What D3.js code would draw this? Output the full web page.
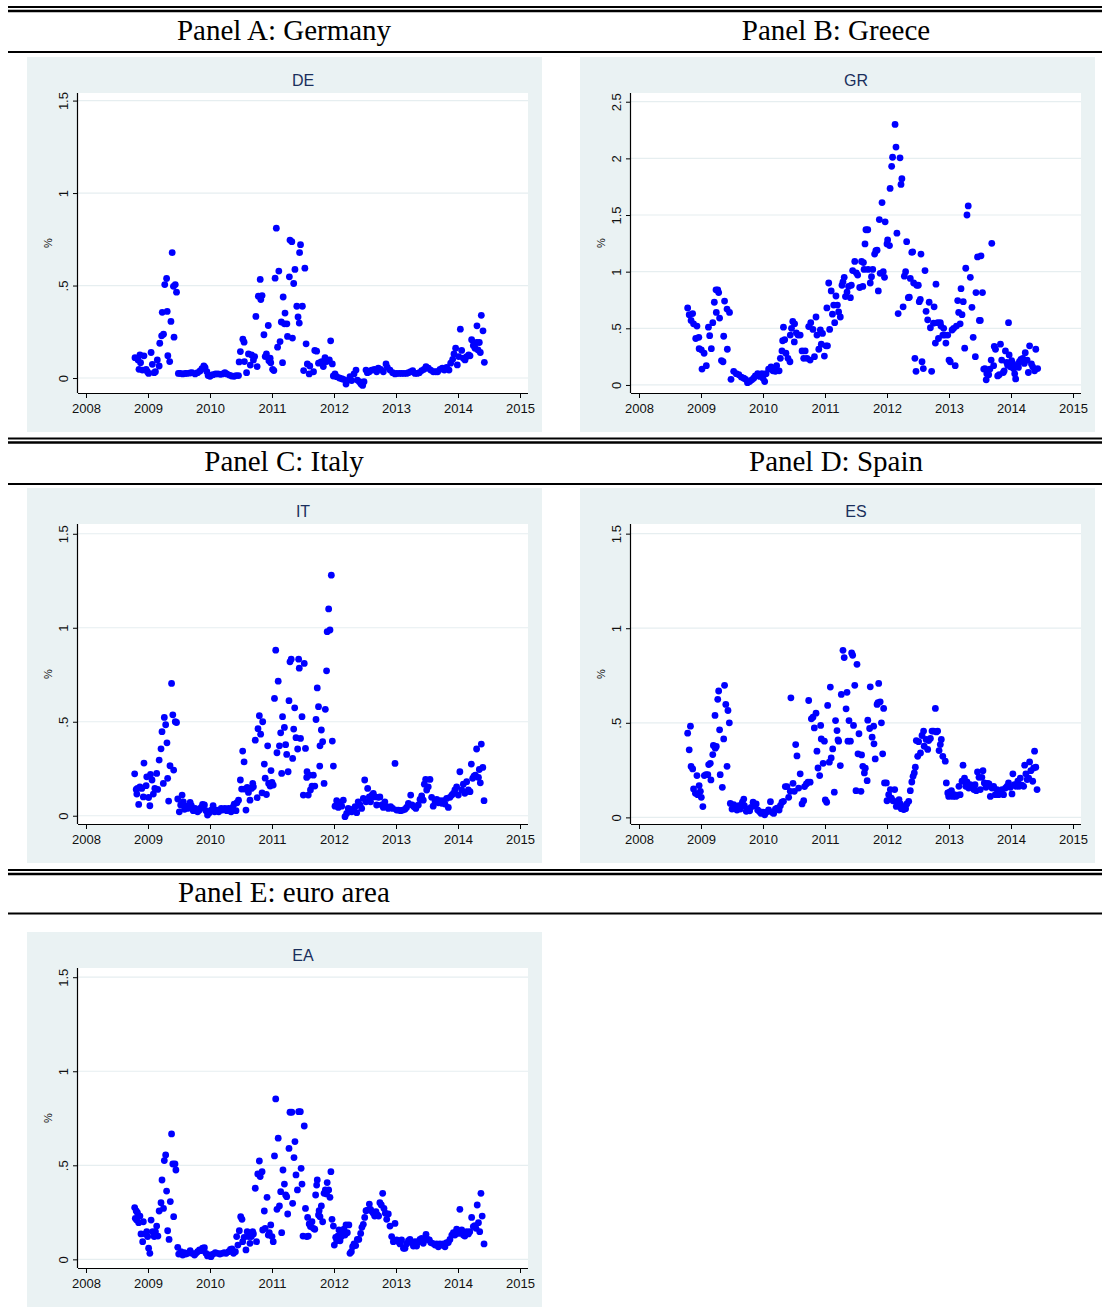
<!DOCTYPE html>
<html><head><meta charset="utf-8">
<script src="https://cdn.jsdelivr.net/npm/d3@7"></script>
<style>body{margin:0;background:#fff}</style>
</head><body>
<svg id="c" width="1102" height="1310"></svg>
<script>
// ---------- data ----------
const xTicks = [2008, 2009, 2010, 2011, 2012, 2013, 2014, 2015];
const yTicksLow = [0, 0.5, 1, 1.5];
const yTicksHigh = [0, 0.5, 1, 1.5, 2, 2.5];
const yTickText = {"0": "0", "0.5": ".5", "1": "1", "1.5": "1.5", "2": "2", "2.5": "2.5"};
const panelTitles = ["Panel A: Germany", "Panel B: Greece", "Panel C: Italy", "Panel D: Spain", "Panel E: euro area"];
const chartTitles = ["DE", "GR", "IT", "ES", "EA"];
const yAxisTitle = "%";

const DE = [[2008.79,0.11],[2008.84,0.098],[2008.87,0.125],[2008.855,0.047],[2008.88,0.083],[2008.935,0.12],[2008.91,0.043],[2008.97,0.047],[2008.99,0.034],[2009.01,0.025],[2009.05,0.138],[2009.07,0.074],[2009.10,0.029],[2009.12,0.034],[2009.15,0.098],[2009.18,0.065],[2009.19,0.188],[2009.22,0.228],[2009.25,0.237],[2009.23,0.355],[2009.31,0.36],[2009.27,0.505],[2009.30,0.538],[2009.32,0.121],[2009.35,0.089],[2009.37,0.306],[2009.39,0.678],[2009.41,0.496],[2009.42,0.221],[2009.44,0.505],[2009.46,0.464],[2009.49,0.025],[2009.52,0.025],[2009.56,0.022],[2009.60,0.025],[2009.63,0.025],[2009.68,0.027],[2009.71,0.029],[2009.76,0.022],[2009.80,0.029],[2009.84,0.038],[2009.87,0.05],[2009.90,0.065],[2009.92,0.058],[2009.95,0.034],[2009.97,0.013],[2010.0,0.009],[2010.03,0.016],[2010.05,0.018],[2010.09,0.022],[2010.13,0.022],[2010.17,0.02],[2010.20,0.022],[2010.24,0.029],[2010.27,0.022],[2010.31,0.016],[2010.35,0.011],[2010.39,0.009],[2010.42,0.013],[2010.46,0.013],[2010.49,0.143],[2010.47,0.087],[2010.53,0.21],[2010.55,0.194],[2010.555,0.089],[2010.59,0.029],[2010.62,0.13],[2010.65,0.07],[2010.67,0.125],[2010.70,0.098],[2010.72,0.116],[2010.74,0.333],[2010.76,0.062],[2010.78,0.442],[2010.81,0.533],[2010.82,0.424],[2010.84,0.446],[2010.87,0.234],[2010.89,0.116],[2010.91,0.13],[2010.94,0.284],[2010.95,0.094],[2010.97,0.107],[2010.98,0.083],[2011.01,0.047],[2011.03,0.04],[2011.05,0.54],[2011.07,0.81],[2011.09,0.167],[2011.11,0.578],[2011.13,0.197],[2011.15,0.303],[2011.17,0.083],[2011.18,0.438],[2011.20,0.293],[2011.21,0.351],[2011.24,0.293],[2011.25,0.225],[2011.28,0.547],[2011.29,0.746],[2011.32,0.737],[2011.33,0.216],[2011.35,0.511],[2011.37,0.587],[2011.40,0.388],[2011.42,0.33],[2011.44,0.297],[2011.445,0.678],[2011.46,0.721],[2011.49,0.388],[2011.51,0.04],[2011.53,0.594],[2011.55,0.185],[2011.57,0.076],[2011.60,0.022],[2011.61,0.065],[2011.67,0.034],[2011.69,0.149],[2011.72,0.145],[2011.75,0.08],[2011.774,0.083],[2011.801,0.089],[2011.828,0.062],[2011.855,0.110],[2011.882,0.089],[2011.925,0.098],[2011.946,0.201],[2011.973,0.076],[2011.989,0.011],[2012.016,0.022],[2012.043,0.007],[2012.086,0.000],[2012.124,-0.004],[2012.151,-0.007],[2012.194,-0.033],[2012.231,-0.011],[2012.258,0.007],[2012.285,-0.014],[2012.323,0.022],[2012.355,0.043],[2012.376,-0.011],[2012.409,-0.020],[2012.435,-0.033],[2012.462,-0.040],[2012.484,-0.020],[2012.516,0.043],[2012.538,0.029],[2012.570,0.034],[2012.608,0.043],[2012.651,0.047],[2012.688,0.034],[2012.715,0.053],[2012.753,0.047],[2012.796,0.034],[2012.839,0.076],[2012.860,0.058],[2012.903,0.043],[2012.946,0.029],[2012.984,0.022],[2013.011,0.025],[2013.054,0.025],[2013.091,0.025],[2013.129,0.025],[2013.172,0.025],[2013.199,0.029],[2013.237,0.034],[2013.269,0.040],[2013.306,0.025],[2013.344,0.025],[2013.376,0.029],[2013.414,0.040],[2013.452,0.047],[2013.484,0.062],[2013.522,0.053],[2013.559,0.043],[2013.602,0.034],[2013.640,0.034],[2013.672,0.034],[2013.710,0.047],[2013.747,0.053],[2013.780,0.043],[2013.817,0.058],[2013.855,0.043],[2013.882,0.080],[2013.914,0.101],[2013.935,0.130],[2013.962,0.161],[2013.989,0.071],[2014.011,0.116],[2014.038,0.264],[2014.059,0.149],[2014.086,0.107],[2014.113,0.098],[2014.140,0.116],[2014.172,0.125],[2014.194,0.120],[2014.220,0.207],[2014.247,0.176],[2014.274,0.161],[2014.301,0.192],[2014.306,0.282],[2014.323,0.152],[2014.344,0.192],[2014.360,0.138],[2014.376,0.339],[2014.403,0.255],[2014.425,0.085]];

const GR = [[2008.785,0.68],[2008.81,0.62],[2008.865,0.63],[2008.84,0.57],[2008.88,0.54],[2008.935,0.52],[2008.915,0.41],[2008.965,0.42],[2008.97,0.32],[2009.005,0.31],[2009.05,0.28],[2009.016,0.14],[2009.086,0.17],[2009.12,0.51],[2009.14,0.435],[2009.167,0.32],[2009.19,0.55],[2009.215,0.73],[2009.247,0.64],[2009.242,0.84],[2009.27,0.84],[2009.285,0.815],[2009.30,0.59],[2009.33,0.215],[2009.355,0.205],[2009.366,0.43],[2009.38,0.74],[2009.42,0.67],[2009.46,0.64],[2009.425,0.315],[2009.484,0.05],[2009.527,0.12],[2009.57,0.10],[2009.61,0.09],[2009.65,0.07],[2009.69,0.06],[2009.72,0.05],[2009.75,0.02],[2009.785,0.03],[2009.82,0.045],[2009.85,0.06],[2009.876,0.08],[2009.914,0.10],[2009.946,0.075],[2009.984,0.10],[2010.0,0.06],[2010.027,0.03],[2010.05,0.10],[2010.09,0.14],[2010.13,0.16],[2010.16,0.125],[2010.2,0.12],[2010.22,0.17],[2010.26,0.125],[2010.28,0.235],[2010.306,0.30],[2010.33,0.51],[2010.317,0.39],[2010.35,0.40],[2010.37,0.28],[2010.403,0.235],[2010.435,0.205],[2010.44,0.44],[2010.46,0.50],[2010.48,0.56],[2010.51,0.54],[2010.505,0.38],[2010.538,0.46],[2010.565,0.44],[2010.60,0.44],[2010.63,0.30],[2010.656,0.235],[2010.68,0.30],[2010.71,0.235],[2010.737,0.515],[2010.76,0.22],[2010.77,0.55],[2010.806,0.49],[2010.83,0.25],[2010.855,0.60],[2010.87,0.44],[2010.90,0.315],[2010.925,0.485],[2010.94,0.36],[2010.96,0.455],[2010.99,0.255],[2011.016,0.345],[2011.03,0.68],[2011.04,0.345],[2011.06,0.90],[2011.075,0.49],[2011.10,0.83],[2011.12,0.625],[2011.14,0.705],[2011.156,0.55],[2011.177,0.785],[2011.2,0.705],[2011.22,0.645],[2011.247,0.60],[2011.274,0.88],[2011.29,0.91],[2011.31,0.95],[2011.33,0.78],[2011.355,0.82],[2011.38,0.87],[2011.41,0.77],[2011.425,0.88],[2011.446,1.01],[2011.48,1.09],[2011.505,0.99],[2011.527,0.97],[2011.56,0.86],[2011.59,1.09],[2011.62,1.08],[2011.645,1.245],[2011.66,1.37],[2011.69,1.37],[2011.61,0.87],[2011.63,1.02],[2011.695,1.02],[2011.73,0.90],[2011.75,0.955],[2011.77,1.02],[2011.80,1.155],[2011.82,1.185],[2011.84,1.19],[2011.86,0.83],[2011.876,1.46],[2011.89,0.985],[2011.92,1.61],[2011.94,1.0],[2011.96,0.95],[2011.97,1.44],[2012.0,1.245],[2012.01,1.28],[2012.04,1.23],[2012.05,1.735],[2012.075,1.93],[2012.09,2.01],[2012.13,2.30],[2012.145,2.10],[2012.16,1.34],[2012.18,0.63],[2012.21,2.005],[2012.226,1.77],[2012.24,1.82],[2012.26,0.69],[2012.28,0.96],[2012.30,1.0],[2012.317,1.265],[2012.344,0.77],[2012.36,0.775],[2012.376,0.94],[2012.40,1.17],[2012.414,1.175],[2012.43,0.90],[2012.45,0.235],[2012.468,0.12],[2012.48,0.88],[2012.505,0.88],[2012.52,0.735],[2012.537,0.755],[2012.548,1.155],[2012.565,0.205],[2012.586,0.145],[2012.613,1.01],[2012.63,0.65],[2012.656,0.575],[2012.68,0.73],[2012.70,0.505],[2012.72,0.12],[2012.75,0.545],[2012.76,0.69],[2012.79,0.89],[2012.78,0.37],[2012.817,0.55],[2012.83,0.41],[2012.86,0.55],[2012.87,0.52],[2012.90,0.44],[2012.914,0.50],[2012.935,0.44],[2012.95,0.37],[2012.98,0.44],[2013.0,0.22],[2013.02,0.205],[2013.05,0.485],[2013.075,0.50],[2013.10,0.17],[2013.12,0.52],[2013.14,0.745],[2013.156,0.64],[2013.18,0.54],[2013.194,0.85],[2013.21,0.62],[2013.23,0.735],[2013.253,0.325],[2013.27,1.03],[2013.29,1.50],[2013.31,1.58],[2013.344,0.95],[2013.37,0.685],[2013.39,0.42],[2013.425,0.25],[2013.435,0.815],[2013.46,1.13],[2013.49,0.57],[2013.505,0.57],[2013.516,1.14],[2013.54,0.815],[2013.56,0.14],[2013.58,0.145],[2013.60,0.045],[2013.61,0.10],[2013.64,0.09],[2013.66,0.14],[2013.68,0.22],[2013.69,1.25],[2013.72,0.17],[2013.73,0.34],[2013.75,0.315],[2013.785,0.08],[2013.81,0.09],[2013.83,0.36],[2013.85,0.22],[2013.876,0.11],[2013.89,0.125],[2013.91,0.30],[2013.93,0.20],[2013.946,0.175],[2013.96,0.55],[2013.97,0.265],[2013.99,0.16],[2014.01,0.215],[2014.027,0.19],[2014.04,0.145],[2014.06,0.10],[2014.075,0.053],[2014.097,0.17],[2014.12,0.155],[2014.134,0.205],[2014.16,0.225],[2014.19,0.235],[2014.215,0.19],[2014.23,0.285],[2014.26,0.22],[2014.28,0.11],[2014.30,0.345],[2014.33,0.185],[2014.35,0.16],[2014.38,0.125],[2014.40,0.315],[2014.43,0.145]];

const IT = [[2008.785,0.223],[2008.81,0.14],[2008.82,0.115],[2008.85,0.06],[2008.83,0.145],[2008.87,0.154],[2008.90,0.145],[2008.925,0.10],[2008.935,0.28],[2008.97,0.16],[2008.98,0.207],[2009.01,0.097],[2009.03,0.053],[2009.04,0.22],[2009.065,0.19],[2009.086,0.115],[2009.11,0.145],[2009.14,0.225],[2009.156,0.14],[2009.18,0.296],[2009.21,0.356],[2009.226,0.447],[2009.247,0.172],[2009.263,0.523],[2009.285,0.484],[2009.306,0.388],[2009.317,0.199],[2009.333,0.078],[2009.355,0.266],[2009.38,0.704],[2009.40,0.537],[2009.414,0.243],[2009.44,0.50],[2009.46,0.496],[2009.48,0.089],[2009.505,0.021],[2009.55,0.11],[2009.527,0.057],[2009.57,0.074],[2009.59,0.034],[2009.61,0.051],[2009.64,0.039],[2009.68,0.071],[2009.70,0.053],[2009.73,0.027],[2009.76,0.039],[2009.80,0.021],[2009.83,0.03],[2009.855,0.043],[2009.88,0.06],[2009.91,0.057],[2009.935,0.027],[2009.96,0.004],[2009.99,0.016],[2010.02,0.03],[2010.05,0.053],[2010.075,0.021],[2010.11,0.03],[2010.14,0.021],[2010.18,0.039],[2010.20,0.03],[2010.24,0.039],[2010.27,0.027],[2010.30,0.039],[2010.34,0.021],[2010.365,0.044],[2010.39,0.062],[2010.42,0.027],[2010.435,0.069],[2010.46,0.083],[2010.49,0.19],[2010.51,0.142],[2010.527,0.344],[2010.55,0.287],[2010.555,0.142],[2010.58,0.03],[2010.60,0.151],[2010.62,0.124],[2010.645,0.083],[2010.67,0.145],[2010.69,0.172],[2010.70,0.154],[2010.73,0.402],[2010.76,0.096],[2010.774,0.463],[2010.796,0.532],[2010.817,0.434],[2010.85,0.50],[2010.84,0.122],[2010.876,0.275],[2010.89,0.20],[2010.91,0.113],[2010.93,0.372],[2010.946,0.172],[2010.97,0.158],[2010.984,0.24],[2011.0,0.177],[2011.02,0.163],[2011.04,0.624],[2011.06,0.881],[2011.08,0.335],[2011.10,0.716],[2011.12,0.372],[2011.14,0.441],[2011.156,0.225],[2011.17,0.527],[2011.20,0.47],[2011.22,0.378],[2011.237,0.326],[2011.26,0.234],[2011.274,0.612],[2011.29,0.819],[2011.31,0.833],[2011.333,0.305],[2011.35,0.461],[2011.366,0.574],[2011.387,0.415],[2011.414,0.355],[2011.43,0.833],[2011.44,0.785],[2011.46,0.411],[2011.484,0.527],[2011.505,0.11],[2011.52,0.81],[2011.54,0.358],[2011.56,0.204],[2011.565,0.234],[2011.585,0.11],[2011.60,0.216],[2011.62,0.137],[2011.645,0.158],[2011.667,0.216],[2011.69,0.158],[2011.71,0.512],[2011.73,0.68],[2011.75,0.58],[2011.77,0.264],[2011.774,0.372],[2011.796,0.456],[2011.817,0.394],[2011.84,0.172],[2011.86,0.566],[2011.88,0.771],[2011.89,0.979],[2011.914,1.10],[2011.935,0.988],[2011.957,1.28],[2011.973,0.397],[2011.99,0.264],[2012.016,0.051],[2012.043,0.08],[2012.07,0.044],[2012.097,0.069],[2012.124,0.051],[2012.15,0.083],[2012.177,-0.005],[2012.204,0.012],[2012.23,0.039],[2012.258,0.034],[2012.285,0.021],[2012.312,0.034],[2012.34,0.048],[2012.366,0.016],[2012.39,0.074],[2012.42,0.057],[2012.446,0.039],[2012.473,0.092],[2012.495,0.19],[2012.516,0.074],[2012.543,0.145],[2012.57,0.10],[2012.59,0.074],[2012.613,0.11],[2012.634,0.119],[2012.66,0.10],[2012.688,0.057],[2012.715,0.098],[2012.74,0.10],[2012.77,0.057],[2012.796,0.044],[2012.82,0.074],[2012.85,0.048],[2012.876,0.039],[2012.914,0.048],[2012.946,0.039],[2012.984,0.278],[2013.01,0.03],[2013.04,0.03],[2013.075,0.027],[2013.11,0.03],[2013.145,0.034],[2013.17,0.044],[2013.20,0.066],[2013.237,0.11],[2013.258,0.057],[2013.29,0.048],[2013.32,0.039],[2013.36,0.057],[2013.387,0.087],[2013.414,0.105],[2013.44,0.083],[2013.457,0.168],[2013.478,0.193],[2013.495,0.137],[2013.52,0.154],[2013.548,0.193],[2013.575,0.098],[2013.60,0.051],[2013.63,0.074],[2013.656,0.087],[2013.683,0.069],[2013.71,0.08],[2013.737,0.066],[2013.763,0.08],[2013.79,0.062],[2013.817,0.092],[2013.844,0.044],[2013.87,0.098],[2013.90,0.11],[2013.925,0.119],[2013.95,0.137],[2013.978,0.154],[2014.005,0.11],[2014.03,0.234],[2014.06,0.137],[2014.086,0.168],[2014.11,0.119],[2014.14,0.181],[2014.167,0.137],[2014.194,0.128],[2014.215,0.275],[2014.237,0.199],[2014.258,0.211],[2014.28,0.216],[2014.30,0.355],[2014.33,0.204],[2014.344,0.246],[2014.36,0.175],[2014.376,0.381],[2014.40,0.257],[2014.42,0.08]];

const ES = [[2008.785,0.445],[2008.83,0.482],[2008.81,0.357],[2008.84,0.269],[2008.866,0.256],[2008.88,0.15],[2008.91,0.127],[2008.935,0.221],[2008.946,0.12],[2008.97,0.168],[2008.99,0.138],[2009.005,0.106],[2009.03,0.057],[2009.054,0.221],[2009.08,0.226],[2009.11,0.226],[2009.124,0.279],[2009.15,0.286],[2009.16,0.198],[2009.19,0.332],[2009.20,0.38],[2009.23,0.366],[2009.247,0.375],[2009.226,0.539],[2009.27,0.624],[2009.285,0.668],[2009.30,0.463],[2009.31,0.226],[2009.344,0.159],[2009.366,0.415],[2009.38,0.698],[2009.40,0.597],[2009.42,0.27],[2009.435,0.565],[2009.457,0.50],[2009.473,0.074],[2009.50,0.044],[2009.527,0.067],[2009.554,0.057],[2009.58,0.039],[2009.61,0.062],[2009.634,0.044],[2009.667,0.08],[2009.69,0.097],[2009.70,0.062],[2009.73,0.032],[2009.75,0.044],[2009.785,0.035],[2009.806,0.053],[2009.84,0.08],[2009.86,0.062],[2009.89,0.071],[2009.914,0.039],[2009.946,0.03],[2009.97,0.021],[2010.0,0.027],[2010.027,0.014],[2010.054,0.027],[2010.09,0.039],[2010.12,0.083],[2010.145,0.027],[2010.172,0.021],[2010.20,0.044],[2010.226,0.049],[2010.26,0.039],[2010.28,0.062],[2010.306,0.08],[2010.33,0.085],[2010.36,0.163],[2010.387,0.163],[2010.414,0.106],[2010.44,0.138],[2010.45,0.632],[2010.484,0.18],[2010.505,0.138],[2010.527,0.385],[2010.548,0.325],[2010.575,0.155],[2010.60,0.23],[2010.63,0.071],[2010.656,0.088],[2010.67,0.163],[2010.70,0.177],[2010.726,0.186],[2010.737,0.618],[2010.76,0.186],[2010.78,0.521],[2010.806,0.53],[2010.828,0.473],[2010.855,0.551],[2010.87,0.35],[2010.887,0.261],[2010.914,0.221],[2010.93,0.486],[2010.94,0.415],[2010.97,0.286],[2010.99,0.403],[2011.005,0.092],[2011.027,0.08],[2011.043,0.592],[2011.07,0.292],[2011.086,0.689],[2011.10,0.314],[2011.124,0.362],[2011.15,0.133],[2011.17,0.512],[2011.194,0.459],[2011.21,0.41],[2011.22,0.403],[2011.247,0.274],[2011.263,0.65],[2011.29,0.883],[2011.31,0.845],[2011.34,0.574],[2011.355,0.661],[2011.37,0.403],[2011.387,0.512],[2011.41,0.403],[2011.43,0.869],[2011.446,0.857],[2011.46,0.486],[2011.48,0.698],[2011.50,0.141],[2011.516,0.809],[2011.532,0.336],[2011.548,0.442],[2011.58,0.138],[2011.59,0.33],[2011.61,0.27],[2011.635,0.235],[2011.65,0.26],[2011.68,0.194],[2011.69,0.514],[2011.72,0.47],[2011.73,0.69],[2011.76,0.424],[2011.785,0.482],[2011.79,0.389],[2011.81,0.309],[2011.84,0.597],[2011.855,0.606],[2011.866,0.708],[2011.89,0.611],[2011.91,0.50],[2011.93,0.336],[2011.946,0.576],[2011.96,0.182],[2011.99,0.182],[2012.0,0.088],[2012.027,0.12],[2012.054,0.147],[2012.07,0.102],[2012.097,0.088],[2012.124,0.147],[2012.15,0.058],[2012.17,0.076],[2012.194,0.094],[2012.215,0.071],[2012.23,0.046],[2012.25,0.058],[2012.27,0.041],[2012.30,0.046],[2012.32,0.071],[2012.35,0.085],[2012.376,0.141],[2012.40,0.187],[2012.42,0.217],[2012.44,0.235],[2012.457,0.265],[2012.473,0.406],[2012.495,0.323],[2012.51,0.40],[2012.54,0.341],[2012.565,0.433],[2012.59,0.456],[2012.60,0.376],[2012.63,0.412],[2012.656,0.359],[2012.672,0.406],[2012.70,0.417],[2012.726,0.456],[2012.75,0.456],[2012.78,0.576],[2012.796,0.452],[2012.817,0.456],[2012.84,0.353],[2012.86,0.385],[2012.876,0.412],[2012.90,0.323],[2012.94,0.297],[2012.957,0.182],[2012.98,0.129],[2012.995,0.111],[2013.01,0.134],[2013.04,0.141],[2013.06,0.111],[2013.086,0.12],[2013.11,0.111],[2013.14,0.117],[2013.16,0.164],[2013.18,0.12],[2013.21,0.191],[2013.226,0.276],[2013.25,0.208],[2013.27,0.164],[2013.29,0.187],[2013.317,0.155],[2013.344,0.173],[2013.37,0.159],[2013.40,0.147],[2013.42,0.173],[2013.44,0.141],[2013.46,0.24],[2013.484,0.212],[2013.505,0.147],[2013.53,0.212],[2013.548,0.247],[2013.57,0.182],[2013.597,0.159],[2013.624,0.18],[2013.645,0.177],[2013.667,0.111],[2013.694,0.155],[2013.72,0.164],[2013.747,0.12],[2013.774,0.147],[2013.80,0.12],[2013.83,0.129],[2013.855,0.147],[2013.88,0.12],[2013.91,0.155],[2013.935,0.164],[2013.96,0.182],[2013.99,0.159],[2014.016,0.124],[2014.03,0.23],[2014.054,0.173],[2014.08,0.164],[2014.11,0.191],[2014.13,0.164],[2014.15,0.208],[2014.177,0.17],[2014.204,0.164],[2014.22,0.276],[2014.24,0.23],[2014.26,0.20],[2014.285,0.208],[2014.30,0.293],[2014.32,0.247],[2014.35,0.191],[2014.366,0.261],[2014.38,0.35],[2014.40,0.265],[2014.42,0.147]];

const EA = [[2008.785,0.275],[2008.81,0.257],[2008.83,0.248],[2008.795,0.218],[2008.817,0.209],[2008.85,0.195],[2008.87,0.23],[2008.887,0.135],[2008.914,0.094],[2008.925,0.20],[2008.957,0.135],[2008.98,0.147],[2008.995,0.121],[2009.01,0.059],[2009.03,0.032],[2009.05,0.209],[2009.075,0.147],[2009.10,0.121],[2009.12,0.147],[2009.14,0.177],[2009.16,0.124],[2009.18,0.257],[2009.21,0.301],[2009.226,0.422],[2009.25,0.271],[2009.263,0.525],[2009.285,0.555],[2009.30,0.363],[2009.317,0.152],[2009.34,0.106],[2009.36,0.307],[2009.38,0.667],[2009.40,0.507],[2009.414,0.227],[2009.435,0.507],[2009.45,0.475],[2009.48,0.064],[2009.495,0.028],[2009.53,0.041],[2009.56,0.023],[2009.586,0.035],[2009.61,0.028],[2009.64,0.032],[2009.68,0.046],[2009.71,0.032],[2009.75,0.023],[2009.774,0.032],[2009.80,0.041],[2009.83,0.05],[2009.855,0.046],[2009.88,0.059],[2009.91,0.062],[2009.935,0.032],[2009.96,0.018],[2009.99,0.023],[2010.016,0.014],[2010.05,0.028],[2010.086,0.035],[2010.124,0.032],[2010.16,0.028],[2010.194,0.032],[2010.23,0.035],[2010.26,0.032],[2010.30,0.041],[2010.33,0.053],[2010.355,0.055],[2010.38,0.032],[2010.41,0.041],[2010.43,0.121],[2010.45,0.076],[2010.473,0.152],[2010.495,0.227],[2010.516,0.213],[2010.527,0.094],[2010.55,0.117],[2010.58,0.05],[2010.60,0.147],[2010.624,0.121],[2010.645,0.085],[2010.667,0.121],[2010.69,0.147],[2010.70,0.135],[2010.73,0.378],[2010.75,0.094],[2010.77,0.454],[2010.796,0.523],[2010.81,0.44],[2010.84,0.466],[2010.85,0.156],[2010.876,0.257],[2010.89,0.165],[2010.92,0.33],[2010.94,0.129],[2010.957,0.142],[2010.98,0.183],[2011.0,0.121],[2011.02,0.094],[2011.04,0.55],[2011.06,0.853],[2011.08,0.266],[2011.10,0.644],[2011.12,0.284],[2011.14,0.36],[2011.156,0.142],[2011.177,0.475],[2011.20,0.40],[2011.22,0.342],[2011.237,0.333],[2011.253,0.241],[2011.274,0.59],[2011.29,0.782],[2011.32,0.782],[2011.333,0.298],[2011.355,0.541],[2011.37,0.626],[2011.387,0.449],[2011.41,0.369],[2011.43,0.785],[2011.457,0.785],[2011.47,0.484],[2011.484,0.40],[2011.50,0.124],[2011.52,0.709],[2011.54,0.271],[2011.56,0.121],[2011.575,0.223],[2011.586,0.124],[2011.60,0.188],[2011.62,0.174],[2011.645,0.20],[2011.667,0.165],[2011.69,0.16],[2011.704,0.342],[2011.72,0.395],[2011.73,0.422],[2011.75,0.236],[2011.76,0.259],[2011.774,0.227],[2011.796,0.284],[2011.817,0.20],[2011.84,0.351],[2011.86,0.369],[2011.88,0.348],[2011.89,0.408],[2011.914,0.369],[2011.935,0.33],[2011.95,0.466],[2011.968,0.213],[2011.99,0.177],[2012.005,0.076],[2012.027,0.117],[2012.043,0.099],[2012.06,0.124],[2012.08,0.156],[2012.097,0.099],[2012.118,0.121],[2012.14,0.142],[2012.16,0.16],[2012.177,0.129],[2012.194,0.183],[2012.215,0.142],[2012.24,0.183],[2012.258,0.032],[2012.28,0.041],[2012.30,0.067],[2012.323,0.082],[2012.35,0.073],[2012.376,0.106],[2012.40,0.106],[2012.43,0.138],[2012.45,0.17],[2012.473,0.186],[2012.495,0.223],[2012.516,0.259],[2012.543,0.262],[2012.57,0.294],[2012.59,0.266],[2012.613,0.254],[2012.634,0.245],[2012.656,0.23],[2012.677,0.254],[2012.70,0.236],[2012.72,0.23],[2012.74,0.301],[2012.763,0.289],[2012.785,0.351],[2012.806,0.271],[2012.828,0.245],[2012.85,0.213],[2012.876,0.241],[2012.903,0.177],[2012.93,0.121],[2012.957,0.094],[2012.984,0.191],[2013.01,0.103],[2013.04,0.094],[2013.065,0.082],[2013.09,0.103],[2013.12,0.059],[2013.145,0.059],[2013.17,0.082],[2013.20,0.099],[2013.226,0.106],[2013.25,0.089],[2013.28,0.071],[2013.306,0.094],[2013.333,0.071],[2013.36,0.094],[2013.387,0.106],[2013.414,0.112],[2013.44,0.085],[2013.468,0.106],[2013.484,0.133],[2013.51,0.106],[2013.538,0.103],[2013.56,0.089],[2013.59,0.085],[2013.63,0.076],[2013.656,0.082],[2013.683,0.067],[2013.71,0.082],[2013.737,0.076],[2013.763,0.082],[2013.79,0.067],[2013.817,0.089],[2013.844,0.089],[2013.87,0.106],[2013.90,0.129],[2013.925,0.142],[2013.95,0.129],[2013.978,0.16],[2014.005,0.138],[2014.03,0.266],[2014.06,0.156],[2014.086,0.129],[2014.11,0.124],[2014.14,0.147],[2014.167,0.135],[2014.19,0.147],[2014.22,0.223],[2014.247,0.174],[2014.27,0.179],[2014.29,0.165],[2014.31,0.289],[2014.33,0.195],[2014.35,0.147],[2014.37,0.351],[2014.39,0.23],[2014.42,0.082]];

// ---------- layout ----------
const W = 1102;
const BG = "#eaf2f3", GRID = "#e6eef0", DOT = "#0000ff", TITLE_C = "#1a2f5c";
const svg = d3.select("#c");

const sections = [
  {lines: [7, 11], titleY: 30, under: 52, titles: [panelTitles[0], panelTitles[1]]},
  {lines: [438.5, 442.5], titleY: 461, under: 484, titles: [panelTitles[2], panelTitles[3]]},
  {lines: [870, 874], titleY: 892, under: 913.5, titles: [panelTitles[4]]}
];
const titleCx = [284, 836];
sections.forEach(s => {
  svg.append("line").attr("x1", 8).attr("x2", W).attr("y1", s.lines[0]).attr("y2", s.lines[0])
    .attr("stroke", "#000").attr("stroke-width", 2);
  svg.append("line").attr("x1", 8).attr("x2", W).attr("y1", s.lines[1]).attr("y2", s.lines[1])
    .attr("stroke", "#000").attr("stroke-width", 2.4);
  svg.append("line").attr("x1", 8).attr("x2", W).attr("y1", s.under).attr("y2", s.under)
    .attr("stroke", "#000").attr("stroke-width", 2);
  s.titles.forEach((t, i) => {
    svg.append("text").attr("x", titleCx[i]).attr("y", s.titleY)
      .attr("text-anchor", "middle").attr("dominant-baseline", "central")
      .attr("font-family", "'Liberation Serif','Times New Roman',serif")
      .attr("font-size", 29).attr("fill", "#000").text(t);
  });
});

const charts = [
  {name: chartTitles[0], data: DE, bx: 27, by: 57, yDom: [-0.081, 1.541], ticks: yTicksLow},
  {name: chartTitles[1], data: GR, bx: 580, by: 57, yDom: [-0.071, 2.577], ticks: yTicksHigh},
  {name: chartTitles[2], data: IT, bx: 27, by: 488, yDom: [-0.044, 1.552], ticks: yTicksLow},
  {name: chartTitles[3], data: ES, bx: 580, by: 488, yDom: [-0.035, 1.551], ticks: yTicksLow},
  {name: chartTitles[4], data: EA, bx: 27, by: 932, yDom: [-0.046, 1.549], ticks: yTicksLow}
];

charts.forEach(c => {
  const g = svg.append("g");
  const L = c.bx + 51, R = c.bx + 501, T = c.by + 36, B = c.by + 336;
  g.append("rect").attr("x", c.bx).attr("y", c.by).attr("width", 515).attr("height", 375).attr("fill", BG);
  g.append("rect").attr("x", L).attr("y", T).attr("width", R - L).attr("height", B - T).attr("fill", "#fff");

  const x = d3.scaleLinear().domain([2007.871, 2015.129]).range([L, R]);
  const y = d3.scaleLinear().domain(c.yDom).range([B, T]);

  // gridlines
  g.append("g").selectAll("line").data(c.ticks).join("line")
    .attr("x1", L).attr("x2", R).attr("y1", d => y(d)).attr("y2", d => y(d))
    .attr("stroke", GRID).attr("stroke-width", 1.2);

  // title
  g.append("text").attr("x", (L + R) / 2).attr("y", c.by + 23.5)
    .attr("text-anchor", "middle").attr("dominant-baseline", "central")
    .attr("font-family", "'Liberation Sans',Arial,sans-serif").attr("font-size", 16)
    .attr("fill", TITLE_C).text(c.name);

  // x axis
  const xa = g.append("g").attr("transform", `translate(0,${B})`)
    .call(d3.axisBottom(x).tickValues(xTicks).tickFormat(d3.format("d")).tickSize(5).tickPadding(6));
  xa.select(".domain").attr("stroke", "#000").attr("stroke-width", 1.2).attr("d", `M${L},0.5H${R}`);
  xa.selectAll(".tick line").attr("stroke", "#000");
  xa.selectAll(".tick text").attr("font-family", "'Liberation Sans',Arial,sans-serif").attr("font-size", 13).attr("fill", "#111");

  // y axis
  const ya = g.append("g").attr("transform", `translate(${L},0)`)
    .call(d3.axisLeft(y).tickValues(c.ticks).tickFormat(d => yTickText[String(d)]).tickSize(5));
  ya.select(".domain").attr("stroke", "#000").attr("stroke-width", 1.2).attr("d", `M-0.5,${B}V${T}`);
  ya.selectAll(".tick line").attr("stroke", "#000");
  ya.selectAll(".tick text").attr("font-family", "'Liberation Sans',Arial,sans-serif").attr("font-size", 13).attr("fill", "#111")
    .attr("x", null).attr("dy", null).attr("text-anchor", "middle")
    .attr("transform", "translate(-15,0) rotate(-90)").attr("dy", "0.35em");

  // y title
  g.append("text").attr("transform", `translate(${c.bx + 21},${(T + B) / 2}) rotate(-90)`)
    .attr("text-anchor", "middle").attr("dy", "0.35em")
    .attr("font-family", "'Liberation Sans',Arial,sans-serif").attr("font-size", 11).attr("fill", "#111").text(yAxisTitle);

  // dots
  g.append("g").selectAll("circle").data(c.data).join("circle")
    .attr("cx", d => x(d[0])).attr("cy", d => y(d[1])).attr("r", 3.4).attr("fill", DOT);
});
</script>
</body></html>
